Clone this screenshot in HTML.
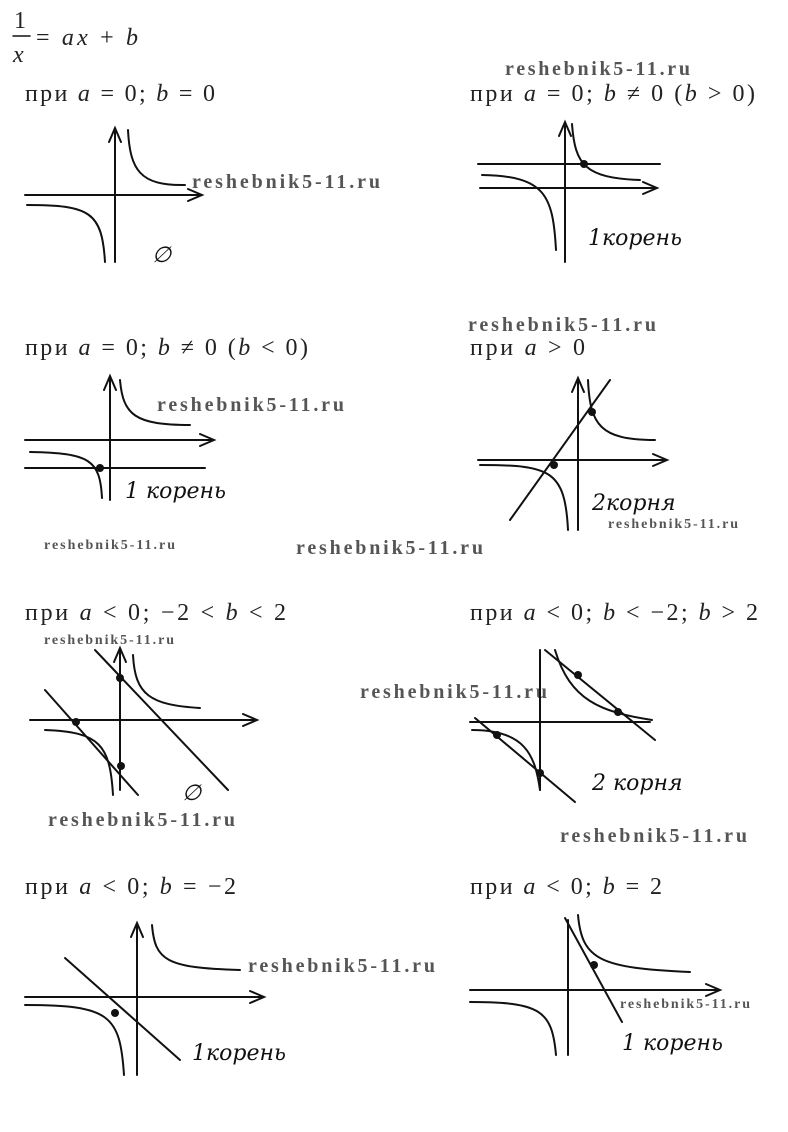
<!DOCTYPE html>
<html><head><meta charset="utf-8"><style>
html,body{margin:0;padding:0;background:#fff;}
svg{display:block}
.h{font-family:"Liberation Serif","DejaVu Serif",serif;font-size:24px;fill:#222}
.i{font-style:italic}
.w{font-family:"Liberation Serif",serif;font-weight:bold;fill:#555;font-size:20px}
.ws{font-family:"Liberation Serif",serif;font-weight:bold;fill:#555;font-size:14px}
.hw{font-family:"DejaVu Serif",serif;font-style:italic;font-size:22px;fill:#111}
path,line{fill:none;stroke:#111;stroke-width:2;stroke-linecap:round}
</style></head><body>
<svg width="788" height="1132" viewBox="0 0 788 1132" xmlns="http://www.w3.org/2000/svg">
<text class="h" x="14" y="28">1</text>
<line x1="13" y1="36" x2="30" y2="36" style="stroke-width:1.5"/>
<text class="h i" x="13" y="62">x</text>
<text class="h" x="36" y="45" textLength="102" lengthAdjust="spacing">= <tspan class="i">ax</tspan> + <tspan class="i">b</tspan></text>

<text class="h" x="25" y="101" textLength="190" lengthAdjust="spacing">при <tspan class="i">a</tspan> = 0; <tspan class="i">b</tspan> = 0</text>
<text class="h" x="470" y="101" textLength="285" lengthAdjust="spacing">при <tspan class="i">a</tspan> = 0; <tspan class="i">b</tspan> ≠ 0 (<tspan class="i">b</tspan> &gt; 0)</text>
<text class="h" x="25" y="355" textLength="283" lengthAdjust="spacing">при <tspan class="i">a</tspan> = 0; <tspan class="i">b</tspan> ≠ 0 (<tspan class="i">b</tspan> &lt; 0)</text>
<text class="h" x="470" y="355" textLength="115" lengthAdjust="spacing">при <tspan class="i">a</tspan> &gt; 0</text>
<text class="h" x="25" y="620" textLength="261" lengthAdjust="spacing">при <tspan class="i">a</tspan> &lt; 0; −2 &lt; <tspan class="i">b</tspan> &lt; 2</text>
<text class="h" x="470" y="620" textLength="288" lengthAdjust="spacing">при <tspan class="i">a</tspan> &lt; 0; <tspan class="i">b</tspan> &lt; −2; <tspan class="i">b</tspan> &gt; 2</text>
<text class="h" x="25" y="894" textLength="211" lengthAdjust="spacing">при <tspan class="i">a</tspan> &lt; 0; <tspan class="i">b</tspan> = −2</text>
<text class="h" x="470" y="894" textLength="192" lengthAdjust="spacing">при <tspan class="i">a</tspan> &lt; 0; <tspan class="i">b</tspan> = 2</text>

<text class="w" x="505" y="75" textLength="185">reshebnik5-11.ru</text>
<text class="w" x="192" y="188" textLength="188">reshebnik5-11.ru</text>
<text class="w" x="468" y="331" textLength="188">reshebnik5-11.ru</text>
<text class="w" x="157" y="411" textLength="187">reshebnik5-11.ru</text>
<text class="ws" x="44" y="549" textLength="131">reshebnik5-11.ru</text>
<text class="w" x="296" y="554" textLength="187">reshebnik5-11.ru</text>
<text class="ws" x="608" y="528" textLength="130">reshebnik5-11.ru</text>
<text class="ws" x="44" y="644" textLength="130">reshebnik5-11.ru</text>
<text class="w" x="360" y="698" textLength="187">reshebnik5-11.ru</text>
<text class="w" x="48" y="826" textLength="187">reshebnik5-11.ru</text>
<text class="w" x="560" y="842" textLength="187">reshebnik5-11.ru</text>
<text class="w" x="248" y="972" textLength="187">reshebnik5-11.ru</text>
<text class="ws" x="620" y="1008" textLength="130">reshebnik5-11.ru</text>

<path d="M115 262 V130 M109 142 L115 128 L121 142"/>
<path d="M25 195 H200 M188 189 L202 195 L188 201"/>
<path d="M128 130 C130 170 140 186 185 185"/>
<path d="M27 205 C90 205 102 212 105 262"/>
<text class="hw" x="152" y="262">∅</text>
<path d="M565 262 V124 M559 136 L565 122 L571 136"/>
<path d="M480 188 H655 M643 182 L657 188 L643 194"/>
<path d="M478 164 H660"/>
<path d="M572 124 C575 165 585 178 640 180"/>
<path d="M482 175 C545 176 553 195 556 250"/>
<circle cx="584" cy="164" r="4" fill="#111"/>
<text class="hw" x="588" y="245">1корень</text>
<path d="M110 500 V378 M104 390 L110 376 L116 390"/>
<path d="M25 440 H212 M200 434 L214 440 L200 446"/>
<path d="M25 468 H205"/>
<path d="M120 380 C123 415 135 425 190 425"/>
<path d="M30 452 C90 453 100 460 102 498"/>
<circle cx="100" cy="468" r="4" fill="#111"/>
<text class="hw" x="125" y="498">1 корень</text>
<path d="M578 530 V380 M572 392 L578 378 L584 392"/>
<path d="M478 460 H665 M653 454 L667 460 L653 466"/>
<path d="M510 520 L610 380"/>
<path d="M588 380 C590 425 600 440 655 440"/>
<path d="M480 465 C550 465 565 470 568 530"/>
<circle cx="592" cy="412" r="4" fill="#111"/>
<circle cx="554" cy="465" r="4" fill="#111"/>
<text class="hw" x="592" y="510">2корня</text>
<path d="M120 790 V650 M114 662 L120 648 L126 662"/>
<path d="M30 720 H255 M243 714 L257 720 L243 726"/>
<path d="M45 690 L138 795"/>
<path d="M95 650 L228 790"/>
<path d="M133 655 C135 695 150 705 200 708"/>
<path d="M45 730 C100 732 110 745 113 795"/>
<circle cx="120" cy="678" r="4" fill="#111"/>
<circle cx="76" cy="722" r="4" fill="#111"/>
<circle cx="121" cy="766" r="4" fill="#111"/>
<text class="hw" x="182" y="800">∅</text>
<path d="M540 790 V650"/>
<path d="M470 722 H650"/>
<path d="M545 650 L655 740"/>
<path d="M475 718 L575 802"/>
<path d="M555 650 C570 700 600 712 652 720"/>
<path d="M472 730 C525 730 535 755 540 790"/>
<circle cx="578" cy="675" r="4" fill="#111"/>
<circle cx="618" cy="712" r="4" fill="#111"/>
<circle cx="497" cy="735" r="4" fill="#111"/>
<circle cx="540" cy="773" r="4" fill="#111"/>
<text class="hw" x="592" y="790">2 корня</text>
<path d="M137 1075 V925 M131 937 L137 923 L143 937"/>
<path d="M25 997 H262 M250 991 L264 997 L250 1003"/>
<path d="M65 958 L180 1060"/>
<path d="M152 925 C155 960 165 968 240 970"/>
<path d="M25 1005 C110 1005 120 1015 124 1075"/>
<circle cx="115" cy="1013" r="4" fill="#111"/>
<text class="hw" x="192" y="1060">1корень</text>
<path d="M568 1055 V920"/>
<path d="M470 990 H718 M706 984 L720 990 L706 996"/>
<path d="M565 918 L622 1022"/>
<path d="M578 915 C582 960 600 968 690 972"/>
<path d="M470 1002 C540 1002 552 1010 556 1055"/>
<circle cx="594" cy="965" r="4" fill="#111"/>
<text class="hw" x="622" y="1050">1 корень</text>
</svg>
</body></html>
